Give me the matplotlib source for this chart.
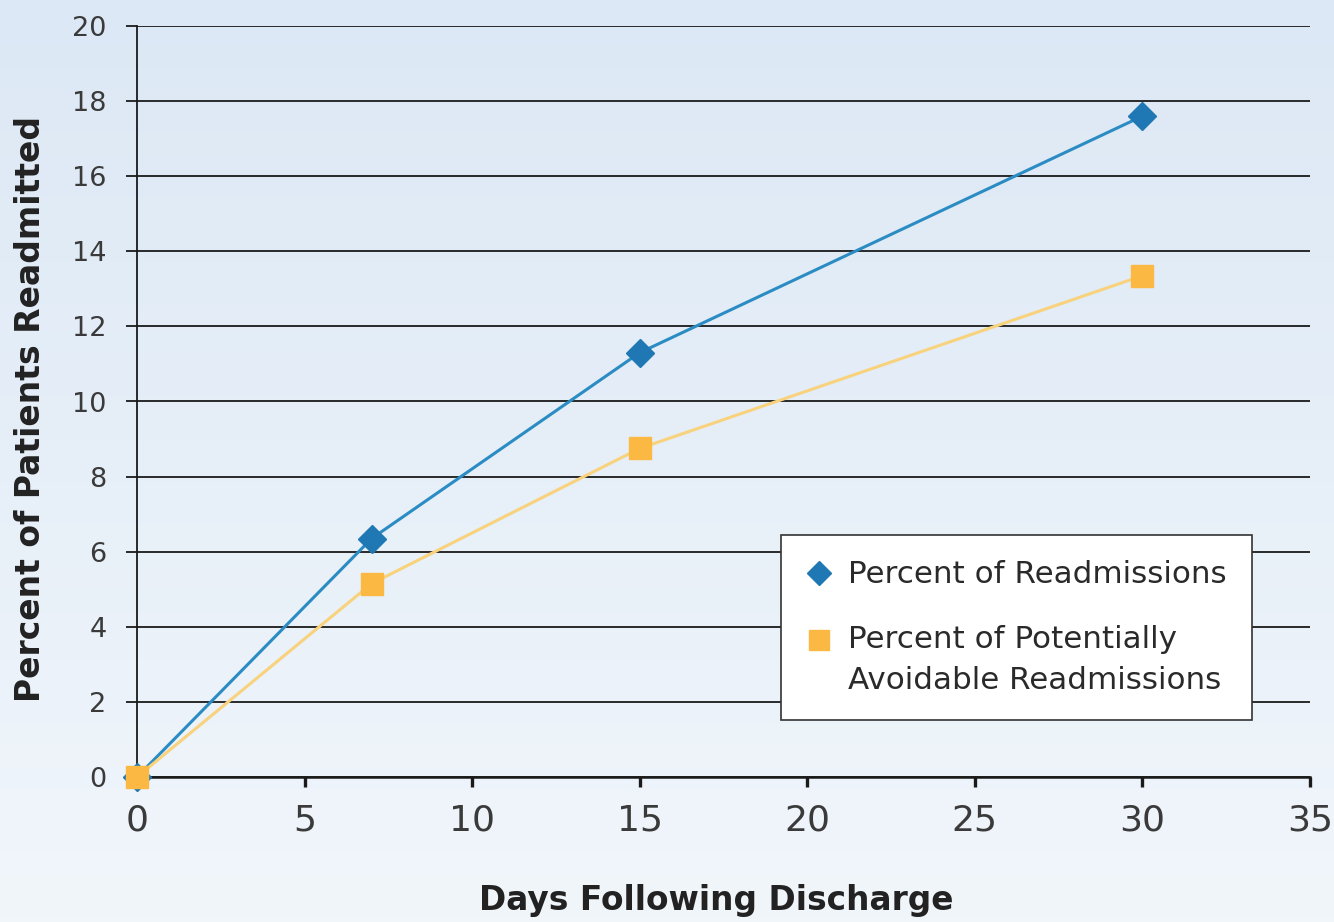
import matplotlib
matplotlib.use("Agg")
import matplotlib.pyplot as plt
import numpy as np
from matplotlib.colors import LinearSegmentedColormap
from matplotlib.lines import Line2D
from matplotlib.legend_handler import HandlerLine2D

days = [0, 7, 15, 30]
readmissions = [0.0, 6.35, 11.3, 17.6]
avoidable = [0.0, 5.15, 8.75, 13.35]
label_readm = "Percent of Readmissions"
label_avoid = "Percent of Potentially\nAvoidable Readmissions"
x_ticks = [0, 5, 10, 15, 20, 25, 30, 35]
y_ticks = [0, 2, 4, 6, 8, 10, 12, 14, 16, 18, 20]

plt.rcParams['font.family'] = ['DejaVu Sans']

W, H = 1334, 922
fig = plt.figure(figsize=(W / 100, H / 100), dpi=100)

# gradient background
bg = fig.add_axes([0, 0, 1, 1], zorder=-10)
cmap = LinearSegmentedColormap.from_list("bg", ["#dce8f5", "#f1f6fb"])
grad = np.linspace(0, 1, 256).reshape(-1, 1)
bg.imshow(grad, aspect="auto", cmap=cmap, extent=[0, 1, 0, 1], origin="upper")
bg.set_axis_off()

left = 137 / W
right = 1310 / W
bottom = 1 - 777 / H
top = 1 - 26 / H
ax = fig.add_axes([left, bottom, right - left, top - bottom])
ax.set_facecolor("none")

blue_line = "#2b8cc4"
blue_mark = "#1f78b4"
orange_line = "#f8d27c"
orange_mark = "#fbb944"

ax.plot(days, readmissions, color=blue_line, lw=2.2, zorder=3, clip_on=False)
ax.plot(days, avoidable, color=orange_line, lw=2.2, zorder=3, clip_on=False)
ax.plot(days, readmissions, ls="none", marker="D", ms=14, color=blue_mark,
        mec=blue_mark, zorder=5, clip_on=False)
ax.plot(days, avoidable, ls="none", marker="s", ms=16, color=orange_mark,
        mec=orange_mark, zorder=6, clip_on=False)

ax.set_xlim(0, 35)
ax.set_ylim(0, 20)
ax.set_xticks(x_ticks)
ax.set_yticks(y_ticks)
ax.set_xticklabels([str(t) for t in x_ticks], fontsize=26, color="#3a3a3a")
ax.set_yticklabels([str(t) for t in y_ticks], fontsize=19.5, color="#3a3a3a")

ax.yaxis.grid(True, color="#1a1a1a", lw=1.3, zorder=1)
ax.set_axisbelow(True)
for s in ["top", "right"]:
    ax.spines[s].set_visible(False)
ax.spines["left"].set_color("#1a1a1a")
ax.spines["left"].set_linewidth(1.3)
ax.spines["bottom"].set_color("#1a1a1a")
ax.spines["bottom"].set_linewidth(1.8)
ax.tick_params(axis="y", direction="out", length=8, width=1.3, color="#1a1a1a", pad=14)
ax.tick_params(axis="x", direction="out", length=7, width=2.4, color="#1a1a1a", pad=12)


class ShiftHandler(HandlerLine2D):
    def __init__(self, shift=0.0, **kw):
        super().__init__(**kw)
        self.shift = shift

    def create_artists(self, legend, orig_handle, xdescent, ydescent, width,
                       height, fontsize, trans):
        arts = super().create_artists(legend, orig_handle, xdescent, ydescent,
                                      width, height, fontsize, trans)
        for a in arts:
            a.set_ydata(np.asarray(a.get_ydata()) + self.shift)
        return arts


# legend
h1 = Line2D([], [], ls="none", marker="D", ms=12, color=blue_mark)
h2 = Line2D([], [], ls="none", marker="s", ms=15, color=orange_mark)
leg = fig.legend([h1, h2], [label_readm, label_avoid], loc="upper left",
                 bbox_to_anchor=(781 / W, 1 - 535 / H), borderaxespad=0,
                 fontsize=22.3, frameon=True, fancybox=False, framealpha=1,
                 edgecolor="#333333", facecolor="white", handlelength=0.8,
                 handletextpad=0.55, labelspacing=1.15, borderpad=0.82,
                 handler_map={h2: ShiftHandler(shift=14.5)})
leg.get_frame().set_linewidth(1.2)
for t in leg.get_texts():
    t.set_color("#2a2a2a")
    t.set_linespacing(1.5)

fig.text(716 / W, 1 - 900 / H, "Days Following Discharge", ha="center", va="center",
         fontsize=23.7, fontweight="bold", color="#222222")
fig.text(31 / W, 1 - 409 / H, "Percent of Patients Readmitted", ha="center", va="center",
         rotation=90, fontsize=23.8, fontweight="bold", color="#222222")

fig.savefig("out.png", dpi=100)
